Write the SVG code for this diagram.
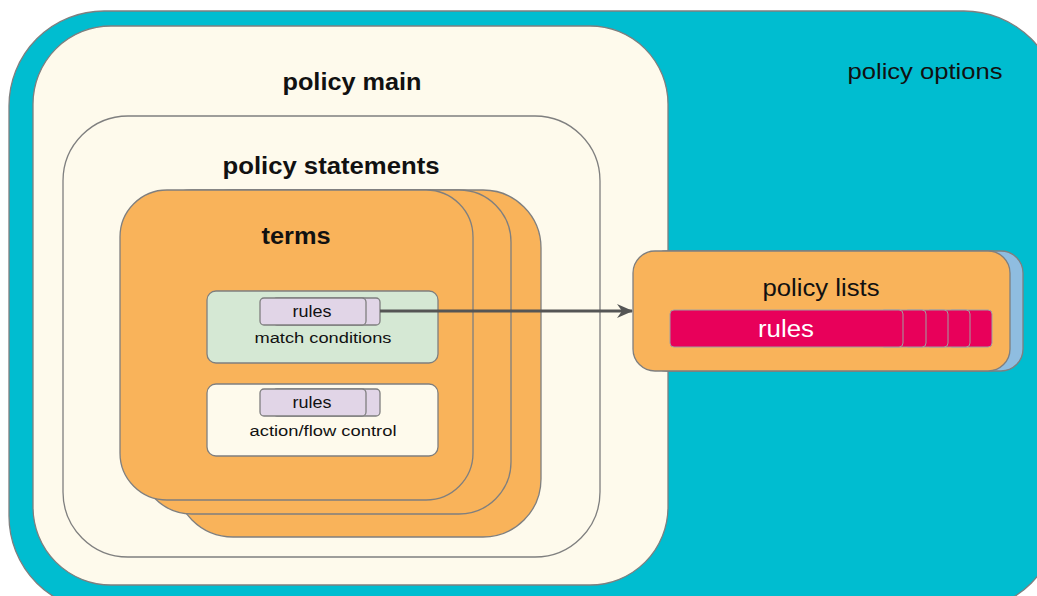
<svg xmlns="http://www.w3.org/2000/svg" width="1037" height="596" viewBox="0 0 1037 596">
<style>
.bd{stroke:#7f7f7f;stroke-width:1.3}
.teal{fill:#00bdd0}
.cream{fill:#fefaec}
.orange{fill:#f9b35a}
.chip{fill:#e1d5e7;stroke:#7f7f7f;stroke-width:1.3}
.t{font-family:"Liberation Sans",Arial,sans-serif;fill:#111}
.b{font-weight:bold}
.red{fill:#e8005a;stroke:#a0a0a0;stroke-width:1}
</style>
<defs>
<marker id="arr" viewBox="0 0 16 14" refX="15" refY="7" markerWidth="16" markerHeight="14" markerUnits="userSpaceOnUse" orient="auto">
<path d="M0,0 L16,7 L0,14 L5,7 Z" fill="#555"/>
</marker>
</defs>
<g id="policy-options">
<rect x="9" y="11" width="1050" height="600" rx="95" class="teal bd"/>
<text x="925" y="79" text-anchor="middle" font-size="22" textLength="155" lengthAdjust="spacingAndGlyphs" class="t">policy options</text>
</g>
<g id="policy-main">
<rect x="33" y="26" width="635" height="559" rx="78" class="cream bd"/>
<text x="352" y="90" text-anchor="middle" font-size="23" textLength="139" lengthAdjust="spacingAndGlyphs" class="t b">policy main</text>
</g>
<g id="policy-statements">
<rect x="63" y="116" width="537" height="441" rx="65" class="cream bd"/>
<text x="331" y="174" text-anchor="middle" font-size="23" textLength="217" lengthAdjust="spacingAndGlyphs" class="t b">policy statements</text>
</g>
<g id="terms">
<rect x="175" y="190" width="366" height="347" rx="58" class="orange bd"/>
<rect x="140" y="190" width="371" height="324" rx="52" class="orange bd"/>
<rect x="120" y="190" width="353" height="310" rx="47" class="orange bd"/>
<text x="296" y="244" text-anchor="middle" font-size="23" textLength="69" lengthAdjust="spacingAndGlyphs" class="t b">terms</text>
</g>
<g id="match-conditions">
<rect x="207" y="291" width="231" height="72" rx="9" fill="#d5e8d4" class="bd"/>
<rect x="273" y="298" width="107" height="27" rx="4" class="chip"/>
<rect x="260" y="298" width="106" height="27" rx="4" class="chip"/>
<text x="312" y="317" text-anchor="middle" font-size="16" textLength="39" lengthAdjust="spacingAndGlyphs" class="t">rules</text>
<text x="323" y="343" text-anchor="middle" font-size="15.5" textLength="137" lengthAdjust="spacingAndGlyphs" class="t">match conditions</text>
</g>
<g id="action-flow-control">
<rect x="207" y="384" width="231" height="72" rx="9" class="cream bd"/>
<rect x="273" y="389" width="107" height="27" rx="4" class="chip"/>
<rect x="260" y="389" width="106" height="27" rx="4" class="chip"/>
<text x="312" y="408" text-anchor="middle" font-size="16" textLength="39" lengthAdjust="spacingAndGlyphs" class="t">rules</text>
<text x="323" y="436" text-anchor="middle" font-size="15.5" textLength="147" lengthAdjust="spacingAndGlyphs" class="t">action/flow control</text>
</g>
<g id="policy-lists">
<rect x="645" y="251" width="378" height="120" rx="22" fill="#8fbde0" class="bd"/>
<rect x="633" y="251" width="377" height="120" rx="22" class="orange bd"/>
<text x="821" y="296" text-anchor="middle" font-size="23" textLength="117" lengthAdjust="spacingAndGlyphs" class="t">policy lists</text>
<rect x="948" y="310" width="44" height="37" rx="4" class="red"/>
<rect x="926" y="310" width="44" height="37" rx="4" class="red"/>
<rect x="904" y="310" width="44" height="37" rx="4" class="red"/>
<rect x="880" y="310" width="46" height="37" rx="4" class="red"/>
<rect x="670" y="310" width="233" height="37" rx="4" class="red"/>
<text x="786" y="337" text-anchor="middle" font-size="23" textLength="56" lengthAdjust="spacingAndGlyphs" class="t" style="fill:#fff">rules</text>
</g>
<g id="connectors">
<line x1="380" y1="311" x2="632" y2="311" stroke="#555" stroke-width="3" marker-end="url(#arr)"/>
</g>
</svg>
